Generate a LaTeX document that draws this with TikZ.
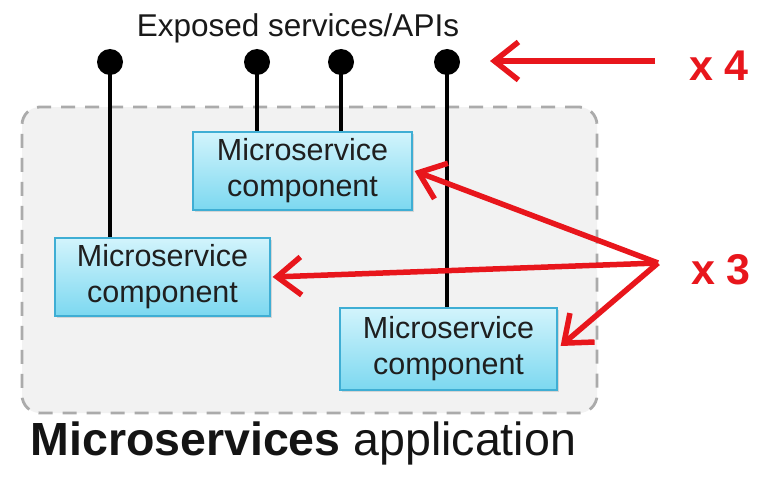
\documentclass[tikz,border=0pt]{standalone}
\usepackage{fontspec}
\setmainfont{Liberation Sans}
\usetikzlibrary{arrows.meta,shadows}
\definecolor{msred}{HTML}{E8161C}
\definecolor{boxtop}{HTML}{D2F4FC}
\definecolor{boxbot}{HTML}{7CD8F0}
\definecolor{boxline}{HTML}{3FAED4}
\definecolor{appfill}{HTML}{F2F2F2}
\definecolor{appline}{HTML}{ABABAB}
\begin{document}
\begin{tikzpicture}[x=1pt,y=-1pt,
  appbox/.style={draw=appline, fill=appfill, line width=2.8pt, dash pattern=on 14pt off 10pt, rounded corners=18pt, inner sep=0pt},
  msbox/.style={draw=boxline, line width=1.2pt, top color=boxtop, bottom color=boxbot, align=center, inner sep=0pt,
    font=\fontsize{30.5}{36}\selectfont, text=black!88,
    drop shadow={opacity=0.25, shadow xshift=2pt, shadow yshift=-2pt}},
  apidot/.style={circle, fill=black, minimum size=26pt, inner sep=0pt},
  apiline/.style={line width=3.6pt, black},
  redarrow/.style={msred, line width=5.5pt, -{Straight Barb[length=24pt, width=38pt, line width=5.5pt]}},
  redlabel/.style={msred, font=\bfseries\fontsize{43}{46}\selectfont},
  toplabel/.style={font=\fontsize{31.5}{36}\selectfont, text=black!90},
  biglabel/.style={font=\fontsize{46.5}{52}\selectfont, text=black!92}]
\useasboundingbox (0,0) rectangle (775,476);
\fill[white] (0,0) rectangle (775,476);

\node[appbox, minimum width=575pt, minimum height=306pt] (app) at (309.5,260) {};

\node[msbox, minimum width=219pt, minimum height=78pt] (top) at (302.5,171) {Microservice\\component};
\node[msbox, minimum width=215pt, minimum height=78pt] (left) at (162.5,277) {Microservice\\component};
\node[msbox, minimum width=217pt, minimum height=82pt] (br) at (448.5,349) {Microservice\\component};

\node[apidot] (d1) at (110,62) {};
\node[apidot] (d2) at (257,62) {};
\node[apidot] (d3) at (341,62) {};
\node[apidot] (d4) at (447,62) {};

\draw[apiline] (d1.center) -- (d1.center |- left.north);
\draw[apiline] (d2.center) -- (d2.center |- top.north);
\draw[apiline] (d3.center) -- (d3.center |- top.north);
\draw[apiline] (d4.center) -- (d4.center |- br.north);

\node[toplabel] (api) at (298,28) {Exposed services/APIs};

\coordinate (x4s) at (655,61);
\coordinate (x4t) at (490,61);
\draw[redarrow] (x4s) -- (x4t);
\node[redlabel] (x4) at (719,66) {x 4};

\coordinate (x3s) at (658,263);
\draw[redarrow] (x3s) -- ([xshift=2pt]top.east);
\draw[redarrow] (x3s) -- ([xshift=2pt]left.east);
\draw[redarrow] (x3s) -- ([xshift=3pt,yshift=3pt]br.east);
\node[redlabel] (x3) at (721,270) {x 3};

\node[biglabel, anchor=west] (apptitle) at (27,443) {\textbf{Microservices} application};
\end{tikzpicture}
\end{document}
